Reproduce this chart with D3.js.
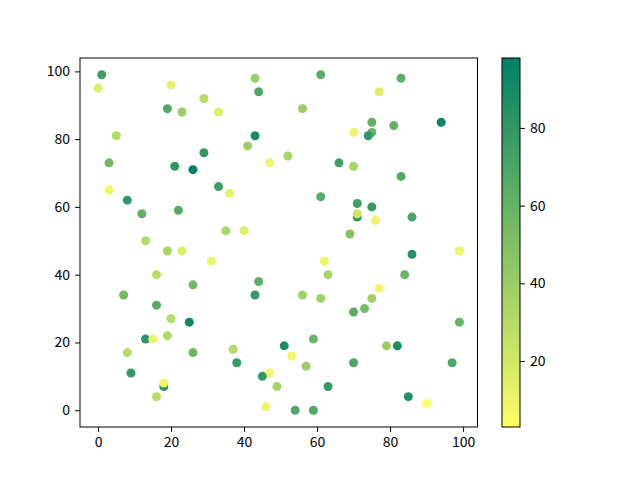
<!DOCTYPE html>
<html><head><meta charset="utf-8">
<script src="https://cdn.jsdelivr.net/npm/d3@7"></script>
<style>body{margin:0;background:#fff}svg{display:block}</style>
</head><body>
<svg id="c" width="640" height="480"></svg>
<script>
const xs = [1,0,20,29,19,23,33,5,29,3,21,26,43,61,44,56,43,41,52,47,66,33,83,77,94,75,81,75,74,70,70,83,3,8,12,22,13,19,23,31,16,26,7,16,36,61,35,40,69,62,63,44,43,56,61,71,75,71,71,76,86,86,99,84,77,75,73,70,20,25,13,15,19,8,26,9,18,18,16,37,38,51,59,53,57,70,47,45,49,63,46,54,59,99,79,82,97,85,90];
const ys = [99,95,96,92,89,88,88,81,76,73,72,71,98,99,94,89,81,78,75,73,73,66,98,94,85,85,84,82,81,82,72,69,65,62,58,59,50,47,47,44,40,37,34,31,64,63,53,53,52,44,40,38,34,34,33,61,60,57,58,56,57,46,47,40,36,33,30,29,27,26,21,21,22,17,17,11,7,8,4,18,14,19,21,16,13,14,11,10,7,7,1,0,0,26,19,19,14,4,2];
const cs = [75,15,12,30,68,40,15,30,80,55,80,98,40,65,68,40,88,40,35,10,75,75,65,15,95,62,62,62,80,10,35,68,8,80,62,65,30,35,15,10,28,55,55,65,12,65,35,15,48,10,35,62,78,38,38,75,78,78,20,10,70,85,10,58,10,38,55,65,30,92,82,10,32,30,58,78,82,8,30,30,78,88,58,8,40,70,8,78,35,78,10,68,68,60,40,88,68,85,3];
const xTicks = [0,20,40,60,80,100];
const yTicks = [0,20,40,60,80,100];
const cTicks = [20,40,60,80];

const svg = d3.select("#c");
const font = "'Noto Sans CJK SC', 'DejaVu Sans', sans-serif";
const L=80, R=477.5, T=58, B=427;
const x = d3.scaleLinear().domain([-4.95,103.95]).range([L,R]);
const y = d3.scaleLinear().domain([-4.95,103.95]).range([B,T]);
const cext = d3.extent(cs);
const summerR = t => { t=Math.max(0,Math.min(1,t)); return d3.rgb(255*(1-t), 255*(1-t/2), 102).toString(); };
const cnorm = d3.scaleLinear().domain(cext).range([0,1]);
const color = v => summerR(cnorm(v));

const g = svg.append("g");
g.selectAll("circle").data(xs.map((d,i)=>({x:d,y:ys[i],c:cs[i]}))).join("circle")
  .attr("cx",d=>x(d.x)).attr("cy",d=>y(d.y)).attr("r",4.5).attr("fill",d=>color(d.c));

function styleAxis(sel){
  sel.selectAll("text").attr("font-family",font).attr("font-size","14px").attr("fill","#000");
  sel.selectAll("line").attr("stroke","#000").attr("stroke-width",1);
  sel.select(".domain").remove();
}
svg.append("g").attr("transform",`translate(0,${B})`)
  .call(d3.axisBottom(x).tickValues(xTicks).tickSize(4.9).tickPadding(5)).call(styleAxis);
svg.append("g").attr("transform",`translate(${L},0)`)
  .call(d3.axisLeft(y).tickValues(yTicks).tickSize(4.9).tickPadding(5)).call(styleAxis);
svg.append("rect").attr("x",L).attr("y",T).attr("width",R-L).attr("height",B-T)
  .attr("fill","none").attr("stroke","#000").attr("stroke-width",1);

// colorbar
const CL=502, CR=520;
const cy = d3.scaleLinear().domain(cext).range([B,T]);
const defs = svg.append("defs");
const grad = defs.append("linearGradient").attr("id","cg").attr("x1",0).attr("y1",1).attr("x2",0).attr("y2",0);
d3.range(0,1.0001,0.05).forEach(t=>grad.append("stop").attr("offset",t).attr("stop-color",summerR(t)));
svg.append("rect").attr("x",CL).attr("y",T).attr("width",CR-CL).attr("height",B-T).attr("fill","url(#cg)");
svg.append("g").attr("transform",`translate(${CR},0)`)
  .call(d3.axisRight(cy).tickValues(cTicks).tickSize(4.9).tickPadding(5)).call(styleAxis);
svg.append("rect").attr("x",CL).attr("y",T).attr("width",CR-CL).attr("height",B-T)
  .attr("fill","none").attr("stroke","#000").attr("stroke-width",1);
</script>
</body></html>
